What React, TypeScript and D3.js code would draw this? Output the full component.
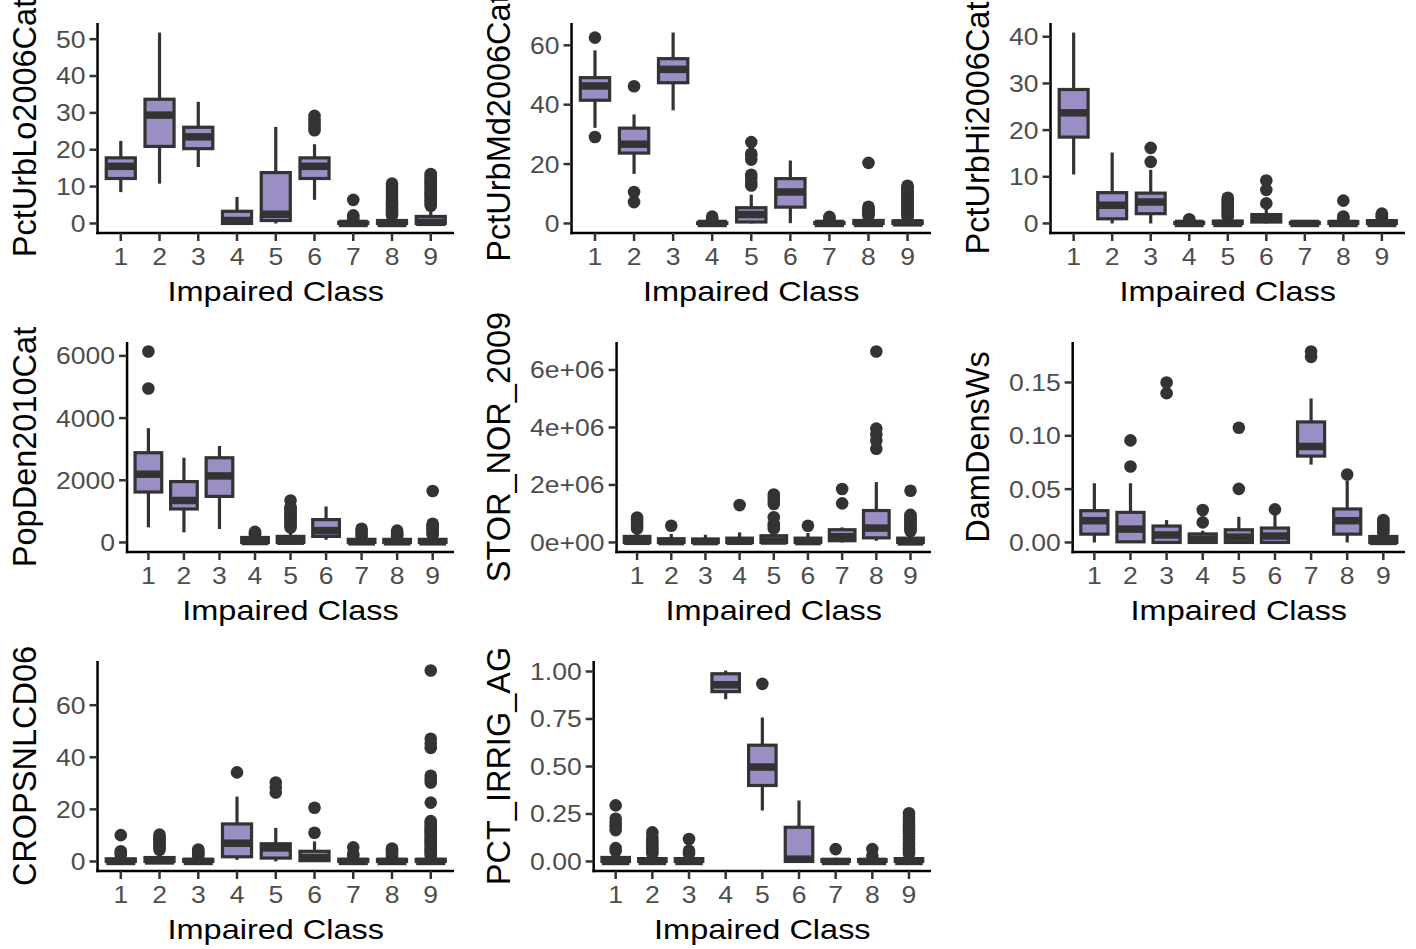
import * as d3 from "d3";
import { useMemo } from "react";

const classes = ["1", "2", "3", "4", "5", "6", "7", "8", "9"];
const xTitle = "Impaired Class";

// each box: [lower whisker, q1, median, q3, upper whisker], one per impaired class
const urbLoBoxes = [
  [8.5, 12.2, 15.5, 17.8, 22.4], [10.8, 20.9, 29.4, 33.7, 51.8], [15.3, 20.3, 23.5, 26.1, 33.0],
  [0, 0, 0.8, 3.3, 7.2], [0, 0.8, 2.5, 13.8, 26.2], [6.4, 12.2, 15.5, 17.8, 21.5],
  [0, 0, 0, 0.3, 0.8], [0, 0, 0, 0.8, 1.8], [0, 0, 0.3, 1.9, 4.5],
];
const urbLoOutliers = [
  [], [], [], [], [], [25.3, 26.2, 27.2, 28.1, 29.2], [1.1, 1.6, 2.2, 6.4],
  [2.2, 2.8, 3.4, 4.0, 4.7, 5.3, 6.0, 6.8, 7.5, 8.3, 9.2, 10.0, 10.8],
  [4.8, 5.3, 5.8, 6.2, 6.7, 7.1, 7.6, 8.0, 8.5, 8.9, 9.4, 9.8, 10.3, 10.7, 11.2, 11.6, 12.1, 12.5, 13.0, 13.4],
];
const urbLoTicks = [0, 10, 20, 30, 40, 50];
const urbLoTickLabels = ["0", "10", "20", "30", "40", "50"];

const urbMdBoxes = [
  [32.2, 41.5, 46.3, 49.1, 58.3], [16.7, 23.7, 26.7, 32.1, 36.7], [38.1, 47.4, 51.9, 55.5, 64.3],
  [0, 0, 0, 0.2, 0.5], [0, 0.5, 3.0, 5.3, 9.7], [0.1, 5.5, 10.6, 15.1, 21.2],
  [0, 0, 0, 0.3, 0.7], [0, 0, 0, 1.0, 2.0], [0, 0, 0.2, 0.8, 1.8],
];
const urbMdOutliers = [
  [29.1, 62.6], [7.2, 10.6, 46.2], [], [1.0, 1.6, 2.3],
  [12.8, 13.8, 15.2, 16.4, 21.5, 22.8, 23.5, 27.4], [], [1.0, 1.6, 2.2],
  [2.6, 3.2, 3.8, 4.4, 5.0, 5.6, 20.4],
  [2.2, 2.7, 3.2, 3.7, 4.2, 4.7, 5.2, 5.7, 6.2, 6.7, 7.2, 7.7, 8.2, 8.7, 9.2, 9.7, 10.2, 10.7, 11.2, 11.7, 12.2, 12.7],
];
const urbMdTicks = [0, 20, 40, 60];
const urbMdTickLabels = ["0", "20", "40", "60"];

const urbHiBoxes = [
  [10.5, 18.5, 23.7, 28.7, 40.9], [0, 1.0, 3.9, 6.6, 15.2], [0, 2.1, 4.6, 6.5, 11.5],
  [0, 0, 0, 0.2, 0.4], [0, 0, 0, 0.5, 1.2], [0, 0.3, 1.0, 1.9, 3.5],
  [0, 0, 0, 0.2, 0.3], [0, 0, 0, 0.4, 0.8], [0, 0, 0, 0.6, 1.0],
];
const urbHiOutliers = [
  [], [], [13.2, 16.2], [0.6, 0.9],
  [1.5, 1.9, 2.3, 2.7, 3.1, 3.5, 3.9, 4.3, 4.7, 5.1, 5.5],
  [4.3, 7.2, 9.2], [], [1.1, 1.5, 4.9], [1.2, 1.5, 1.8, 2.1],
];
const urbHiTicks = [0, 10, 20, 30, 40];
const urbHiTickLabels = ["0", "10", "20", "30", "40"];

const popBoxes = [
  [486, 1622, 2195, 2886, 3676], [324, 1077, 1350, 1958, 2724], [432, 1481, 2140, 2724, 3103],
  [0, 0, 30, 160, 200], [0, 0, 40, 195, 450], [86, 195, 380, 735, 1157],
  [0, 0, 20, 100, 150], [0, 0, 20, 100, 150], [0, 0, 20, 100, 200],
];
const popOutliers = [
  [4951, 6140], [], [], [240, 290, 340],
  [480, 540, 600, 660, 720, 780, 840, 900, 960, 1020, 1080, 1135, 1351],
  [], [200, 280, 360, 440], [200, 260, 320, 380],
  [250, 300, 350, 400, 450, 500, 550, 600, 1654],
];
const popTicks = [0, 2000, 4000, 6000];
const popTickLabels = ["0", "2000", "4000", "6000"];

const storBoxes = [
  [0, 0, 40000, 210000, 420000], [0, 0, 30000, 130000, 300000], [0, 0, 30000, 120000, 268000],
  [0, 0, 40000, 150000, 350000], [0, 0, 50000, 233000, 420000], [0, 0, 30000, 150000, 330000],
  [0, 60000, 200000, 443000, 524000], [58000, 160000, 500000, 1110000, 2100000], [0, 0, 20000, 150000, 340000],
];
const storOutliers = [
  [480000, 560000, 640000, 720000, 800000, 870000], [583000], [], [1300000],
  [480000, 560000, 640000, 874000, 1340000, 1450000, 1560000, 1670000],
  [583000], [1360000, 1860000], [3260000, 3550000, 3760000, 3960000, 6640000],
  [400000, 470000, 540000, 610000, 680000, 750000, 820000, 890000, 960000, 1800000],
];
const storTicks = [0, 2e6, 4e6, 6e6];
const storTickLabels = ["0e+00", "2e+06", "4e+06", "6e+06"];

const damBoxes = [
  [0, 0.0078, 0.0204, 0.0298, 0.0555], [0, 0.0006, 0.0125, 0.0282, 0.0555], [0, 0, 0.007, 0.0154, 0.021],
  [0, 0, 0.003, 0.008, 0.011], [0, 0, 0.005, 0.0119, 0.024], [0, 0, 0.006, 0.0135, 0.026],
  [0.073, 0.081, 0.09, 0.113, 0.135], [0, 0.0078, 0.0204, 0.0314, 0.058], [0, 0, 0.001, 0.0056, 0.008],
];
const damOutliers = [
  [], [0.0712, 0.0957], [0.14, 0.15], [0.0188, 0.0304], [0.0502, 0.1076], [0.031],
  [0.174, 0.179], [0.0637], [0.009, 0.011, 0.013, 0.015, 0.017, 0.019, 0.021],
];
const damTicks = [0, 0.05, 0.1, 0.15];
const damTickLabels = ["0.00", "0.05", "0.10", "0.15"];

const cropBoxes = [
  [0, 0, 0, 1.0, 2.0], [0, 0, 0.2, 1.5, 3.5], [0, 0, 0, 0.8, 1.8],
  [0.6, 1.8, 7.0, 14.4, 24.9], [0, 1.3, 5.2, 6.8, 12.9], [0, 0.3, 1.5, 3.9, 7.7],
  [0, 0, 0, 0.8, 1.5], [0, 0, 0, 0.8, 1.5], [0, 0, 0, 0.8, 1.8],
];
const cropOutliers = [
  [2.5, 3.2, 3.9, 10.1], [4.5, 5.3, 6.1, 6.9, 7.7, 8.5, 9.3, 10.3], [2.2, 2.8, 3.4, 4.0, 4.6],
  [34.2], [26.5, 28.4, 30.3], [11.0, 20.6], [2.2, 3.0, 5.4], [2.0, 2.8, 3.6, 4.4, 5.0],
  [2.2, 2.9, 3.6, 4.3, 5.0, 5.7, 6.4, 7.1, 7.8, 8.5, 9.2, 9.9, 10.6, 11.3, 12.0, 12.7, 13.4, 14.1, 14.8, 15.5,
    22.6, 30.3, 31.6, 32.9, 43.6, 45.3, 47.1, 73.3],
];
const cropTicks = [0, 20, 40, 60];
const cropTickLabels = ["0", "20", "40", "60"];

const irrigBoxes = [
  [0, 0, 0, 0.021, 0.045], [0, 0, 0, 0.015, 0.035], [0, 0, 0, 0.015, 0.03],
  [0.854, 0.894, 0.93, 0.988, 1.005], [0.268, 0.4, 0.497, 0.612, 0.758], [0, 0, 0.012, 0.18, 0.321],
  [0, 0, 0, 0.01, 0.02], [0, 0, 0, 0.01, 0.02], [0, 0, 0, 0.015, 0.035],
];
const irrigOutliers = [
  [0.056, 0.07, 0.165, 0.185, 0.205, 0.225, 0.295],
  [0.04, 0.055, 0.07, 0.085, 0.1, 0.115, 0.13, 0.153],
  [0.04, 0.056, 0.118], [], [0.935], [], [0.065], [0.03, 0.065],
  [0.04, 0.055, 0.07, 0.085, 0.1, 0.115, 0.13, 0.145, 0.16, 0.175, 0.19, 0.205, 0.22, 0.235, 0.254],
];
const irrigTicks = [0, 0.25, 0.5, 0.75, 1];
const irrigTickLabels = ["0.00", "0.25", "0.50", "0.75", "1.00"];

const panels = [
  { title: "PctUrbLo2006Cat", boxes: urbLoBoxes, outliers: urbLoOutliers, ticks: urbLoTicks, labels: urbLoTickLabels },
  { title: "PctUrbMd2006Cat", boxes: urbMdBoxes, outliers: urbMdOutliers, ticks: urbMdTicks, labels: urbMdTickLabels },
  { title: "PctUrbHi2006Cat", boxes: urbHiBoxes, outliers: urbHiOutliers, ticks: urbHiTicks, labels: urbHiTickLabels },
  { title: "PopDen2010Cat", boxes: popBoxes, outliers: popOutliers, ticks: popTicks, labels: popTickLabels },
  { title: "STOR_NOR_2009", boxes: storBoxes, outliers: storOutliers, ticks: storTicks, labels: storTickLabels },
  { title: "DamDensWs", boxes: damBoxes, outliers: damOutliers, ticks: damTicks, labels: damTickLabels },
  { title: "CROPSNLCD06", boxes: cropBoxes, outliers: cropOutliers, ticks: cropTicks, labels: cropTickLabels },
  { title: "PCT_IRRIG_AG", boxes: irrigBoxes, outliers: irrigOutliers, ticks: irrigTicks, labels: irrigTickLabels },
];

const W = 1416;
const H = 949;
const colLeft = [0, 474, 953];
const colRight = [454, 931, 1405];
const rowTop = [0, 319, 638];
const FONT = "'Liberation Sans', Arial, Helvetica, sans-serif";
const tickSize = 23.5;
const stretch = 1.13; // the original's horizontal text is drawn wider than Arial
const purple = "#9b8ec5";
const dark = "#333333";

let ctx: CanvasRenderingContext2D | null = null;
function textWidth(s: string, size: number) {
  if (!ctx) ctx = document.createElement("canvas").getContext("2d");
  if (!ctx) return s.length * size * 0.55;
  ctx.font = `${size}px ${FONT}`;
  return ctx.measureText(s).width;
}

function Panel({ p, i }: { p: any; i: number }) {
  const col = i % 3;
  const row = Math.floor(i / 3);

  const layout = useMemo(() => {
    const labelW = (d3.max(p.labels as string[], (s) => textWidth(s, tickSize)) || 0) * stretch;
    const left = colLeft[col] + 68 + labelW;
    const right = colRight[col];
    const top = rowTop[row] + 23;
    const bottom = rowTop[row] + 233;
    const values = (p.boxes.flat() as number[]).concat(p.outliers.flat());
    const [lo, hi] = d3.extent(values) as [number, number];
    const pad = (hi - lo) * 0.05;
    const y = d3.scaleLinear().domain([lo - pad, hi + pad]).range([bottom, top]);
    const x = d3.scalePoint<string>().domain(classes).range([left, right]).padding(0.6);
    return { left, right, top, bottom, x, y };
  }, [p, col, row]);

  const { left, right, top, bottom, x, y } = layout;
  const bw = x.step() * 0.75;

  return (
    <g>
      {/* boxes */}
      {p.boxes.map((b: number[], k: number) => {
        const cx = x(classes[k]) as number;
        const [lw, q1, med, q3, uw] = b;
        return (
          <g key={k}>
            {p.outliers[k].map((v: number, j: number) => (
              <circle key={j} cx={cx} cy={y(v)} r={6.3} fill={dark} />
            ))}
            <line x1={cx} x2={cx} y1={y(uw)} y2={y(q3)} stroke={dark} strokeWidth={3.2} />
            <line x1={cx} x2={cx} y1={y(q1)} y2={y(lw)} stroke={dark} strokeWidth={3.2} />
            <rect
              x={cx - bw / 2}
              width={bw}
              y={y(q3)}
              height={Math.max(0, y(q1) - y(q3))}
              fill={purple}
              stroke={dark}
              strokeWidth={3.2}
            />
            <line x1={cx - bw / 2} x2={cx + bw / 2} y1={y(med)} y2={y(med)} stroke={dark} strokeWidth={7.5} />
          </g>
        );
      })}

      {/* axes */}
      <line x1={left} x2={left} y1={top} y2={bottom + 1.25} stroke="#000" strokeWidth={2.5} />
      <line x1={left - 1.25} x2={right} y1={bottom} y2={bottom} stroke="#000" strokeWidth={2.5} />
      {p.ticks.map((t: number, k: number) => (
        <g key={k}>
          <line x1={left - 8} x2={left} y1={y(t)} y2={y(t)} stroke={dark} strokeWidth={2.5} />
          <text
            transform={`translate(${left - 12},${y(t)}) scale(${stretch},1)`}
            textAnchor="end"
            dy="0.36em"
            fontSize={tickSize}
            fill="#4d4d4d"
          >
            {p.labels[k]}
          </text>
        </g>
      ))}
      {classes.map((c) => (
        <g key={c}>
          <line x1={x(c)} x2={x(c)} y1={bottom} y2={bottom + 8} stroke={dark} strokeWidth={2.5} />
          <text
            transform={`translate(${x(c)},${bottom + 32}) scale(${stretch},1)`}
            textAnchor="middle"
            fontSize={tickSize}
            fill="#4d4d4d"
          >
            {c}
          </text>
        </g>
      ))}
      <text
        transform={`translate(${(left + right) / 2},${bottom + 68}) scale(1.16,1)`}
        textAnchor="middle"
        fontSize={28}
        fill="#000"
      >
        {xTitle}
      </text>
      <text
        transform={`translate(${colLeft[col] + 36},${(top + bottom) / 2}) rotate(-90)`}
        textAnchor="middle"
        fontSize={32.5}
        fill="#000"
      >
        {p.title}
      </text>
    </g>
  );
}

export default function App() {
  return (
    <svg
      width={W}
      height={H}
      style={{ position: "absolute", left: 0, top: 0, background: "#fff" }}
      fontFamily={FONT}
    >
      <rect width={W} height={H} fill="#fff" />
      {panels.map((p, i) => (
        <Panel key={p.title} p={p} i={i} />
      ))}
    </svg>
  );
}
